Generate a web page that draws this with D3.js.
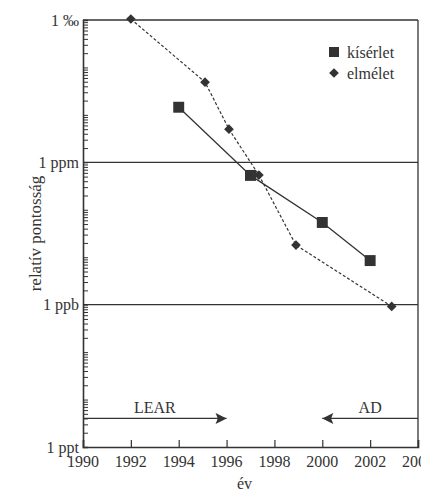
<!DOCTYPE html>
<html lang="hu">
<head>
  <meta charset="utf-8">
  <title>relatív pontosság</title>
  <script src="https://cdn.jsdelivr.net/npm/d3@7"></script>
  <style>
    body {
      margin: 0;
      background: #fff;
    }

    svg text {
      font-family: "Liberation Serif", "Times New Roman", Times, "DejaVu Serif", serif;
      fill: #333;
    }
  </style>
</head>
<body>
  <svg width="421" height="495"></svg>
  <script>

  // kísérlet (mért) pontok
  var kiserletEv = [1994, 1997, 2000, 2002];
  var kiserletErtek = [1.45e-5, 5.3e-7, 5.4e-8, 8.5e-9];

  // elmélet pontok
  var elmeletEv = [1992, 1995.1, 1996.1, 1997.35, 1998.9, 2002.9];
  var elmeletErtek = [1.05e-3, 4.9e-5, 5.0e-6, 5.4e-7, 1.8e-8, 9.2e-10];

  var evTicks = [1990, 1992, 1994, 1996, 1998, 2000, 2002, 2004];
  var yTicks = [1e-3, 1e-6, 1e-9, 1e-12];
  var yLabels = ["1 \u2030", "1 ppm", "1 ppb", "1 ppt"];
  var racsVonalak = [1e-3, 1e-6, 1e-9];

  // LEAR / AD időszak nyilak
  var nyilNevek = ["LEAR", "AD"];
  var nyilTol = [1990, 2004];
  var nyilIg = [1996, 2000];
  var nyilSzint = 4e-12;

  var svg = d3.select("svg"),
      width = +svg.attr("width"),
      height = +svg.attr("height");

  svg.attr("font-family", "'Liberation Serif', 'Times New Roman', serif");

  var margin = {top: 20, right: 3, bottom: 48, left: 83};
  var ink = "#333";

  var x = d3.scaleLinear()
      .domain([1990, 2004])
      .range([margin.left, width - margin.right]);

  var y = d3.scaleLog()
      .domain([1e-12, 1e-3])
      .range([height - margin.bottom, margin.top]);

  var defs = svg.append("defs");
  defs.append("marker")
      .attr("id", "nyil")
      .attr("viewBox", "0 0 10 10")
      .attr("refX", 10)
      .attr("refY", 5)
      .attr("markerWidth", 12)
      .attr("markerHeight", 11)
      .attr("markerUnits", "userSpaceOnUse")
      .attr("orient", "auto")
    .append("path")
      .attr("d", "M0,0L10,5L0,10L2,5Z")
      .attr("fill", ink);

  // vízszintes vonalak (1‰, 1 ppm, 1 ppb)
  svg.append("g")
    .selectAll("line")
    .data(racsVonalak)
    .enter().append("line")
      .attr("x1", x.range()[0])
      .attr("x2", x.range()[1])
      .attr("y1", function(d) { return y(d); })
      .attr("y2", function(d) { return y(d); })
      .attr("stroke", ink)
      .attr("stroke-width", 1.3);

  // jobb oldali keret
  svg.append("line")
      .attr("x1", x(2004)).attr("x2", x(2004))
      .attr("y1", y.range()[1]).attr("y2", y.range()[0])
      .attr("stroke", ink)
      .attr("stroke-width", 1.3);

  // bal tengely, log kis osztásokkal befelé
  var yAxis = svg.append("g")
      .attr("transform", "translate(" + margin.left + ",0)")
      .call(d3.axisRight(y).tickValues(y.ticks()).tickSize(5).tickFormat(""));
  yAxis.select(".domain").attr("stroke", ink).attr("stroke-width", 1.6);
  yAxis.selectAll(".tick line").attr("stroke", ink);

  svg.append("g")
    .selectAll("text")
    .data(yTicks)
    .enter().append("text")
      .attr("x", margin.left - 4)
      .attr("y", function(d) { return y(d); })
      .attr("dy", "0.35em")
      .attr("text-anchor", "end")
      .style("font-size", "16px")
      .text(function(d, i) { return yLabels[i]; });

  // alsó tengely
  var xAxis = svg.append("g")
      .attr("transform", "translate(0," + (height - margin.bottom) + ")")
      .call(d3.axisTop(x).tickValues(evTicks).tickSize(7).tickFormat(""));
  xAxis.select(".domain").attr("stroke", ink).attr("stroke-width", 1.6);
  xAxis.selectAll(".tick line").attr("stroke", ink).attr("stroke-width", 1.2);

  svg.append("g")
    .selectAll("text")
    .data(evTicks)
    .enter().append("text")
      .attr("x", function(d) { return x(d); })
      .attr("y", height - margin.bottom + 20)
      .attr("text-anchor", "middle")
      .style("font-size", "16px")
      .text(function(d) { return d; });

  svg.append("text")
      .attr("x", x(1996.75))
      .attr("y", height - 6)
      .attr("text-anchor", "middle")
      .style("font-size", "16px")
      .text("év");

  svg.append("text")
      .attr("transform", "translate(41," + ((y.range()[0] + y.range()[1]) / 2) + ") rotate(-90)")
      .attr("text-anchor", "middle")
      .style("font-size", "17px")
      .text("relatív pontosság");

  // nyilak
  var nyilak = svg.append("g")
    .selectAll("g")
    .data(nyilNevek)
    .enter().append("g");

  nyilak.append("line")
      .attr("x1", function(d, i) { return x(nyilTol[i]); })
      .attr("x2", function(d, i) { return x(nyilIg[i]); })
      .attr("y1", y(nyilSzint))
      .attr("y2", y(nyilSzint))
      .attr("stroke", ink)
      .attr("stroke-width", 1.3)
      .attr("marker-end", "url(#nyil)");

  nyilak.append("text")
      .attr("x", function(d, i) { return x((nyilTol[i] + nyilIg[i]) / 2); })
      .attr("y", y(nyilSzint) - 5)
      .attr("text-anchor", "middle")
      .style("font-size", "16px")
      .text(function(d) { return d; });

  // elmélet: szaggatott vonal + rombuszok
  var elmelet = elmeletEv.map(function(d, i) { return [d, elmeletErtek[i]]; });
  var kiserlet = kiserletEv.map(function(d, i) { return [d, kiserletErtek[i]]; });

  var line = d3.line()
      .x(function(d) { return x(d[0]); })
      .y(function(d) { return y(d[1]); });

  svg.append("path")
      .datum(elmelet)
      .attr("d", line)
      .attr("fill", "none")
      .attr("stroke", ink)
      .attr("stroke-width", 1.2)
      .attr("stroke-dasharray", "3,2");

  svg.append("path")
      .datum(kiserlet)
      .attr("d", line)
      .attr("fill", "none")
      .attr("stroke", ink)
      .attr("stroke-width", 1.3);

  var diamond = d3.symbol().type(d3.symbolDiamond2).size(60);
  var square = d3.symbol().type(d3.symbolSquare).size(120);

  svg.append("g")
    .selectAll("path")
    .data(elmelet)
    .enter().append("path")
      .attr("d", diamond)
      .attr("transform", function(d) { return "translate(" + x(d[0]) + "," + y(d[1]) + ")"; })
      .attr("fill", ink);

  svg.append("g")
    .selectAll("path")
    .data(kiserlet)
    .enter().append("path")
      .attr("d", square)
      .attr("transform", function(d) { return "translate(" + x(d[0]) + "," + y(d[1]) + ")"; })
      .attr("fill", ink);

  // jelmagyarázat
  var legend = svg.append("g").attr("transform", "translate(334,52)");
  legend.append("path")
      .attr("d", d3.symbol().type(d3.symbolSquare).size(100))
      .attr("fill", ink);
  legend.append("text")
      .attr("x", 13).attr("dy", "0.35em")
      .style("font-size", "16px")
      .text("kísérlet");
  legend.append("path")
      .attr("d", diamond)
      .attr("transform", "translate(0,21)")
      .attr("fill", ink);
  legend.append("text")
      .attr("x", 13).attr("y", 21).attr("dy", "0.35em")
      .style("font-size", "16px")
      .text("elmélet");

  </script>
</body>
</html>
